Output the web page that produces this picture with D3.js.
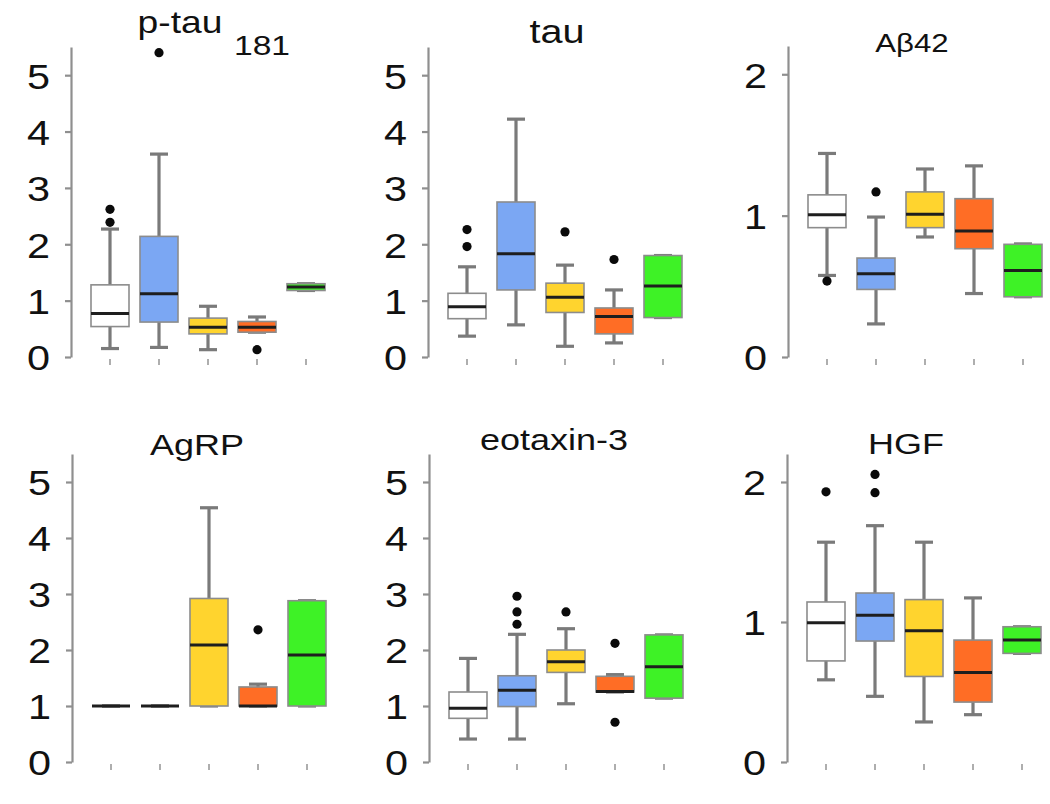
<!DOCTYPE html>
<html>
<head>
<meta charset="utf-8">
<script src="https://cdn.jsdelivr.net/npm/d3@7"></script>
<style>
  html, body { margin: 0; padding: 0; background: #fff; }
  svg { display: block; }
  text { font-family: "Liberation Sans", Arial, sans-serif; fill: #111; }
</style>
</head>
<body>
<svg id="chart" width="1050" height="804"></svg>
<script>
// ---------------- DATA ----------------
const markers = ["p-tau181", "tau", "Aβ42", "AgRP", "eotaxin-3", "HGF"];
const groups = ["G1", "G2", "G3", "G4", "G5"];
const groupColors = ["#ffffff", "#7ba7f3", "#ffd42e", "#ff6d25", "#3ef226"];
const yMax = [5.5, 5.5, 2.2, 5.5, 5.5, 2.2];
const yTicks = [[0, 1, 2, 3, 4, 5], [0, 1, 2, 3, 4, 5], [0, 1, 2], [0, 1, 2, 3, 4, 5], [0, 1, 2, 3, 4, 5], [0, 1, 2]];

// box stats per group: [lower whisker, Q1, median, Q3, upper whisker]
const pTau181Stats = [[0.15, 0.54, 0.77, 1.28, 2.27], [0.17, 0.62, 1.12, 2.14, 3.60], [0.13, 0.41, 0.53, 0.69, 0.90], [0.44, 0.44, 0.53, 0.63, 0.71], [1.18, 1.18, 1.24, 1.30, 1.30]];
const pTau181Outliers = [[2.39, 2.62], [5.40], [], [0.13], []];
const tauStats = [[0.37, 0.68, 0.89, 1.13, 1.60], [0.57, 1.19, 1.83, 2.75, 4.22], [0.19, 0.79, 1.06, 1.31, 1.63], [0.25, 0.41, 0.72, 0.87, 1.19], [0.70, 0.70, 1.26, 1.80, 1.80]];
const tauOutliers = [[1.96, 2.26], [], [2.22], [1.73], []];
const ab42Stats = [[0.577, 0.915, 1.007, 1.147, 1.44], [0.234, 0.478, 0.589, 0.70, 0.99], [0.849, 0.915, 1.01, 1.168, 1.33], [0.449, 0.766, 0.891, 1.12, 1.352], [0.426, 0.426, 0.612, 0.797, 0.80]];
const ab42Outliers = [[0.537], [1.168], [], [], []];
const agrpStats = [[1, 1, 1, 1, 1], [1, 1, 1, 1, 1], [1, 1, 2.09, 2.92, 4.54], [1, 1, 1, 1.34, 1.39], [1, 1, 1.91, 2.88, 2.88]];
const agrpOutliers = [[], [], [], [2.36], []];
const eotaxin3Stats = [[0.41, 0.78, 0.96, 1.25, 1.85], [0.41, 0.99, 1.28, 1.54, 2.28], [1.04, 1.60, 1.79, 2.00, 2.38], [1.25, 1.25, 1.26, 1.53, 1.56], [1.14, 1.14, 1.70, 2.27, 2.27]];
const eotaxin3Outliers = [[], [2.46, 2.68, 2.96], [2.68], [0.71, 2.12], []];
const hgfStats = [[0.587, 0.722, 0.994, 1.143, 1.57], [0.469, 0.864, 1.049, 1.207, 1.688], [0.286, 0.611, 0.937, 1.16, 1.57], [0.338, 0.428, 0.639, 0.871, 1.172], [0.776, 0.776, 0.871, 0.966, 0.966]];
const hgfOutliers = [[1.93], [1.924, 2.054], [], [], []];

const allStats = [pTau181Stats, tauStats, ab42Stats, agrpStats, eotaxin3Stats, hgfStats];
const allOutliers = [pTau181Outliers, tauOutliers, ab42Outliers, agrpOutliers, eotaxin3Outliers, hgfOutliers];

// ---------------- LAYOUT ----------------
const axisX = [71, 428, 788, 72, 429, 787];
const yBottom = [357, 357, 357, 762, 762, 762];
const yTop = [47, 47, 46, 454, 454, 454];
const firstOffset = 39, step = 49;
const boxW = 38, capW = 18;
const tickFont = 36, tickStretch = 1.15;
const titleFont = 30, titleStretch = 1.2;

const svg = d3.select("#chart");

function stretchedText(g, x, y, str, size, stretch, anchor) {
  return g.append("text")
    .attr("transform", `translate(${x},${y}) scale(${stretch},1)`)
    .attr("text-anchor", anchor || "middle")
    .style("font-size", size + "px")
    .text(str);
}

markers.forEach((m, i) => {
  const g = svg.append("g");
  const y = d3.scaleLinear().domain([0, yMax[i]]).range([yBottom[i], yTop[i]]);
  const x = d3.scalePoint().domain(groups)
    .range([axisX[i] + firstOffset, axisX[i] + firstOffset + step * (groups.length - 1)]);

  // y axis
  const ax = g.append("g").attr("transform", `translate(${axisX[i]},0)`)
    .call(d3.axisLeft(y).tickValues(yTicks[i]).tickSize(6).tickSizeOuter(0).tickFormat(d3.format("d")));
  ax.select(".domain").attr("stroke", "#8f8f8f").attr("stroke-width", 2.2);
  ax.selectAll(".tick line").attr("stroke", "#8f8f8f").attr("stroke-width", 2.2);
  ax.selectAll(".tick text").remove();
  ax.selectAll(".tick").each(function(d) {
    stretchedText(d3.select(this), -21, 0, d, tickFont, tickStretch, "end")
      .attr("dy", "0.36em");
  });

  // x tick marks (no labels)
  g.selectAll(".xt").data(groups).enter().append("line")
    .attr("x1", d => x(d)).attr("x2", d => x(d))
    .attr("y1", yBottom[i] + 2).attr("y2", yBottom[i] + 8)
    .attr("stroke", "#9a9a9a").attr("stroke-width", 1.6);

  const stats = allStats[i];
  const outs = allOutliers[i];
  groups.forEach((grp, j) => {
    const s = stats[j];
    const cx = x(grp);
    // whiskers
    g.append("line").attr("x1", cx).attr("x2", cx).attr("y1", y(s[0])).attr("y2", y(s[4]))
      .attr("stroke", "#7a7a7a").attr("stroke-width", 3.2);
    [s[0], s[4]].forEach(v => {
      g.append("line").attr("x1", cx - capW / 2).attr("x2", cx + capW / 2)
        .attr("y1", y(v)).attr("y2", y(v))
        .attr("stroke", "#7a7a7a").attr("stroke-width", 3.2);
    });
    // box
    g.append("rect").attr("x", cx - boxW / 2).attr("width", boxW)
      .attr("y", y(s[3])).attr("height", Math.max(0, y(s[1]) - y(s[3])))
      .attr("fill", groupColors[j]).attr("stroke", "#8c8c8c").attr("stroke-width", 1.6);
    // median
    g.append("line").attr("x1", cx - boxW / 2).attr("x2", cx + boxW / 2)
      .attr("y1", y(s[2])).attr("y2", y(s[2]))
      .attr("stroke", "#1e1e1e").attr("stroke-width", 3);
    // outliers
    g.selectAll(null).data(outs[j]).enter().append("circle")
      .attr("cx", cx).attr("cy", v => y(v)).attr("r", 4.6).attr("fill", "#0a0a0a");
  });
});

// ---------------- TITLES ----------------
stretchedText(svg, 180, 33, "p-tau", titleFont + 1, titleStretch);
stretchedText(svg, 262, 55, "181", titleFont - 2, titleStretch);
stretchedText(svg, 557, 43, "tau", 33, titleStretch);
stretchedText(svg, 912, 52, "Aβ42", 26, titleStretch);
stretchedText(svg, 197, 455, "AgRP", titleFont, titleStretch);
stretchedText(svg, 554, 450, "eotaxin-3", titleFont, titleStretch);
stretchedText(svg, 906, 454, "HGF", titleFont, titleStretch);
</script>
</body>
</html>
